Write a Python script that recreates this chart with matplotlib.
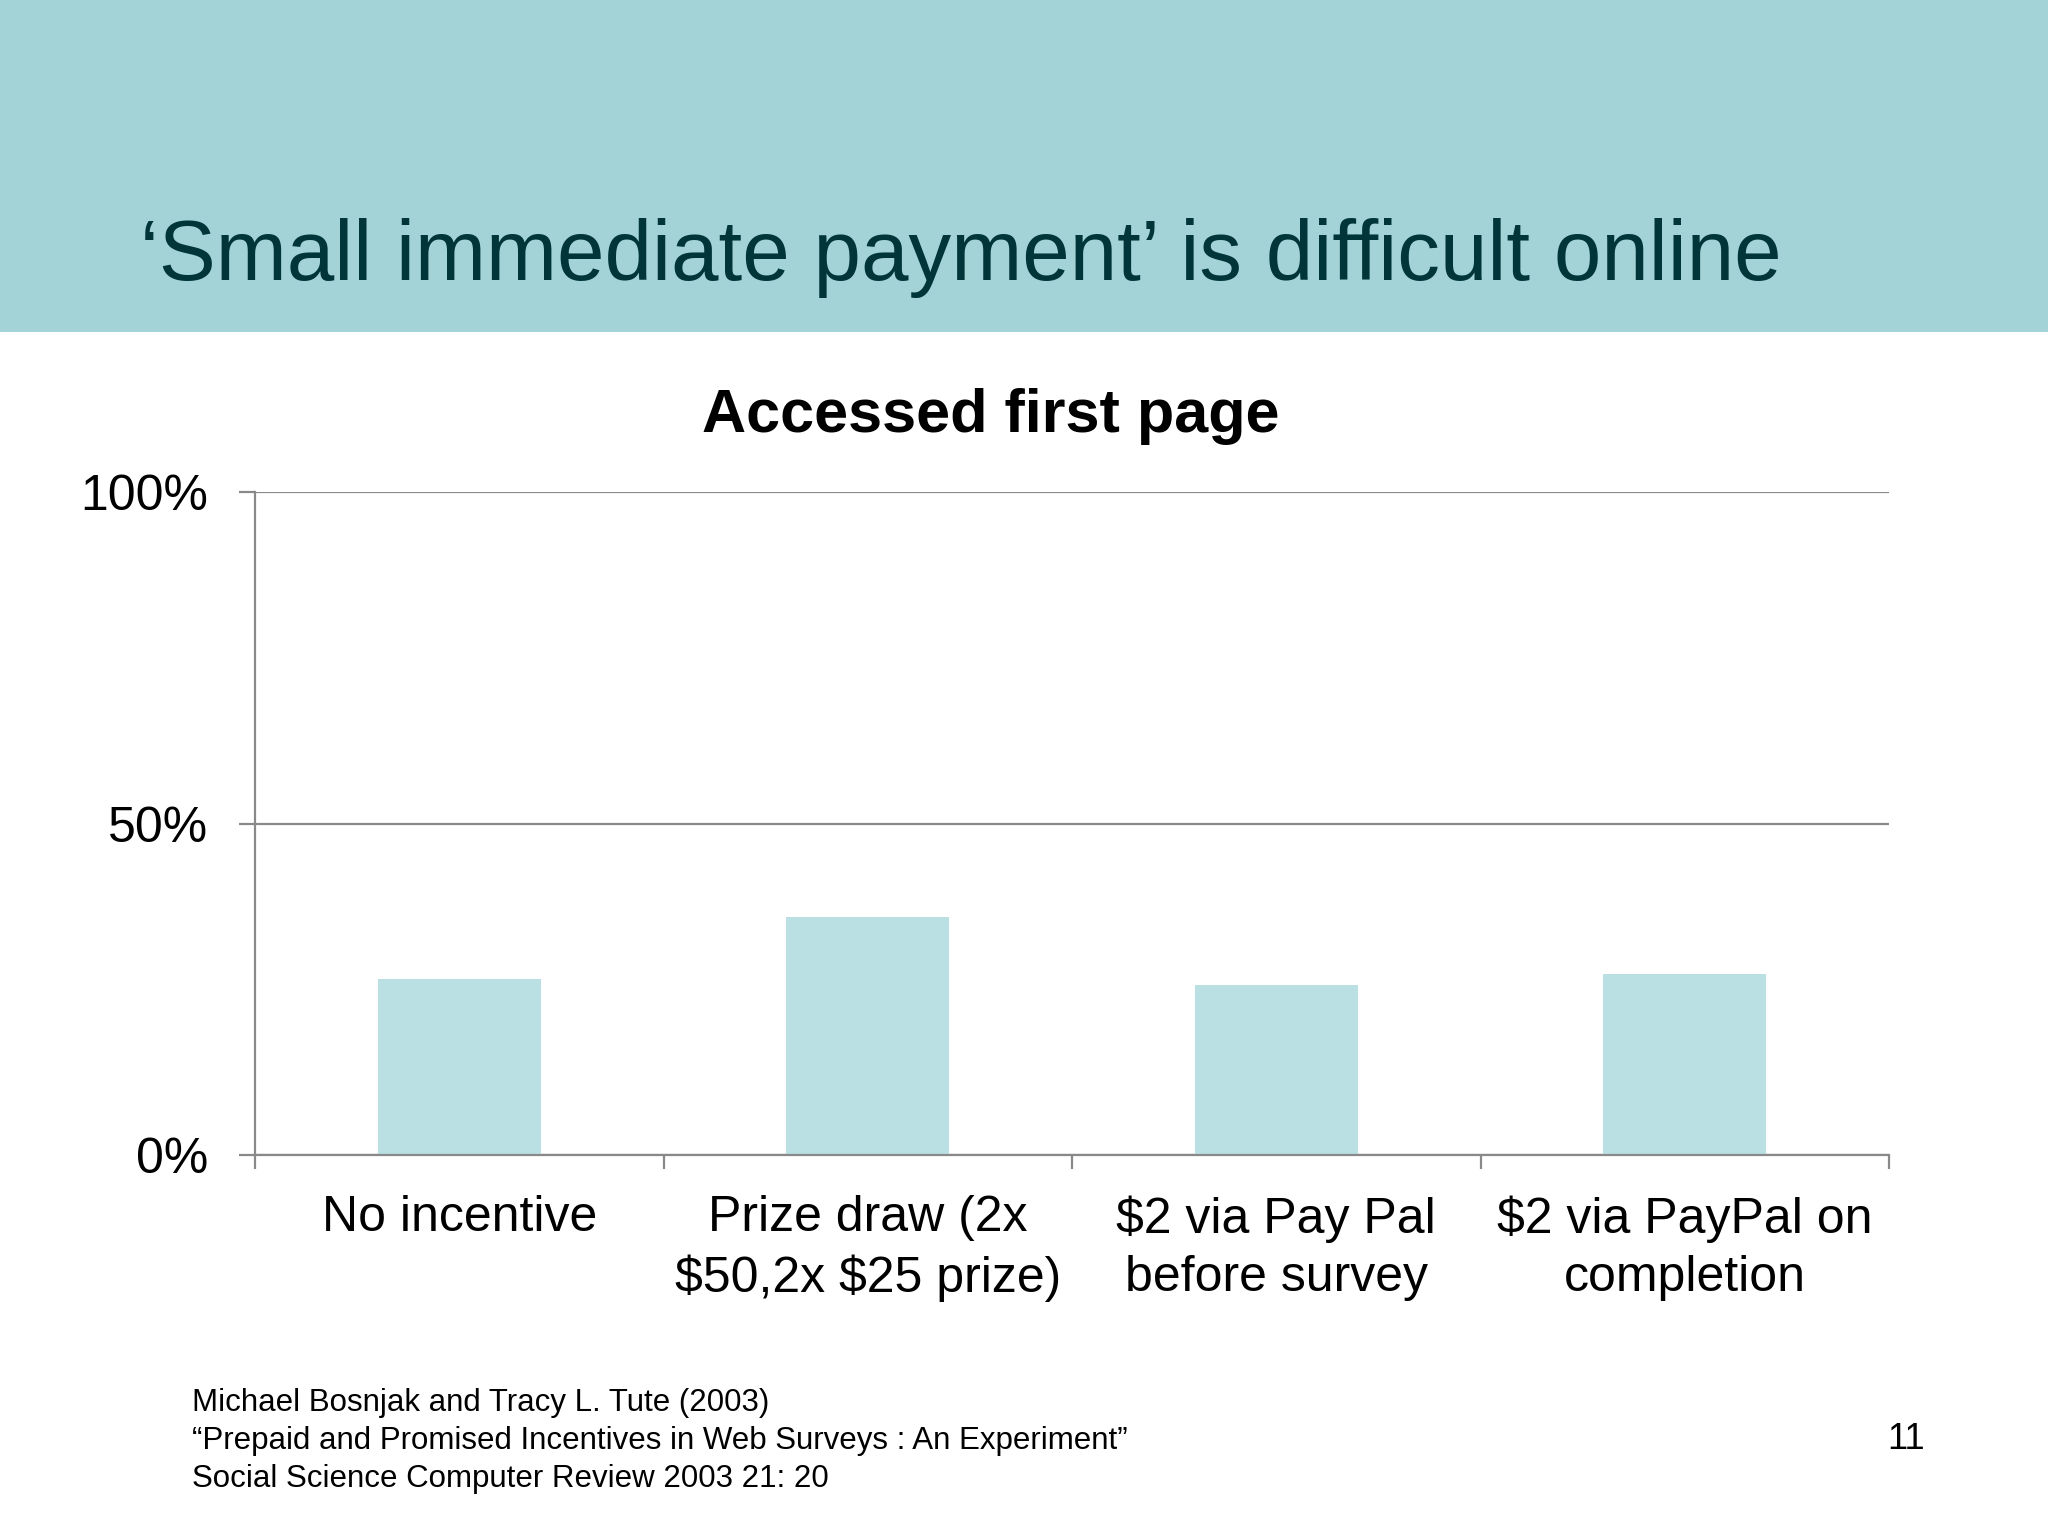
import matplotlib
matplotlib.use("Agg")
import matplotlib.pyplot as plt
from matplotlib.patches import Rectangle
from matplotlib.ticker import FixedLocator, PercentFormatter

# ---- data ----
categories = ["No incentive", "Prize draw (2x\n\\$50,2x \\$25 prize)",
              "\\$2 via Pay Pal\nbefore survey", "\\$2 via PayPal on\ncompletion"]
values = [26.5, 35.9, 25.6, 27.3]
yticks = [0, 50, 100]
slide_title = "\u2018Small immediate payment\u2019 is difficult online"
chart_title = "Accessed first page"
footer_lines = ["Michael Bosnjak and Tracy L. Tute (2003)",
                "\u201cPrepaid and Promised Incentives in Web Surveys : An Experiment\u201d",
                "Social Science Computer Review 2003 21: 20"]
page_number = "11"

plt.rcParams['font.family'] = ['Liberation Sans', 'DejaVu Sans']

W, H = 2048, 1536
fig = plt.figure(figsize=(W / 100, H / 100), dpi=100)
fig.patch.set_facecolor("white")

# header band
fig.patches.append(Rectangle((0, 1 - 332 / H), 1, 332 / H, transform=fig.transFigure,
                             facecolor="#A3D3D6", edgecolor="none", zorder=0))
fig.text(140 / W, 1 - 280 / H, slide_title, fontsize=61.5, color="#003539",
         ha="left", va="baseline")

# chart title
fig.text(991 / W, 1 - 432 / H, chart_title, fontsize=44, fontweight="bold",
         color="black", ha="center", va="baseline")

gray = "#898989"
ax = fig.add_axes([255 / W, 1 - 1155 / H, (1889 - 255) / W, (1155 - 492) / H])
x = list(range(len(categories)))
ax.bar(x, values, width=0.4, color="#BBE0E3", zorder=2)
ax.set_xlim(-0.5, len(categories) - 0.5)
ax.set_ylim(0, 100)

ax.yaxis.set_major_locator(FixedLocator(yticks))
ax.yaxis.set_major_formatter(PercentFormatter(decimals=0))
ax.grid(axis="y", color=gray, linewidth=1.6, zorder=1)
ax.set_axisbelow(True)
ax.tick_params(axis="y", length=11.5, width=1.6, color=gray, pad=22,
               labelsize=36, labelcolor="black")

ax.set_xticks(x)
ax.set_xticklabels(categories, fontsize=36, linespacing=1.35)
ax.set_xticks([i - 0.5 for i in range(len(categories) + 1)], minor=True)
ax.tick_params(axis="x", which="major", length=0, pad=29, labelcolor="black")
ax.tick_params(axis="x", which="minor", length=10, width=1.6, color=gray)

for s in ["top", "right"]:
    ax.spines[s].set_visible(False)
for s in ["left", "bottom"]:
    ax.spines[s].set_color(gray)
    ax.spines[s].set_linewidth(1.6)

# footer
for i, line in enumerate(footer_lines):
    fig.text(192 / W, 1 - (1411 + i * 37.8) / H, line, fontsize=22.5,
             color="black", ha="left", va="baseline")
fig.text(1925 / W, 1 - 1449 / H, page_number, fontsize=26, color="black",
         ha="right", va="baseline")

fig.savefig("out.png", dpi=100)
